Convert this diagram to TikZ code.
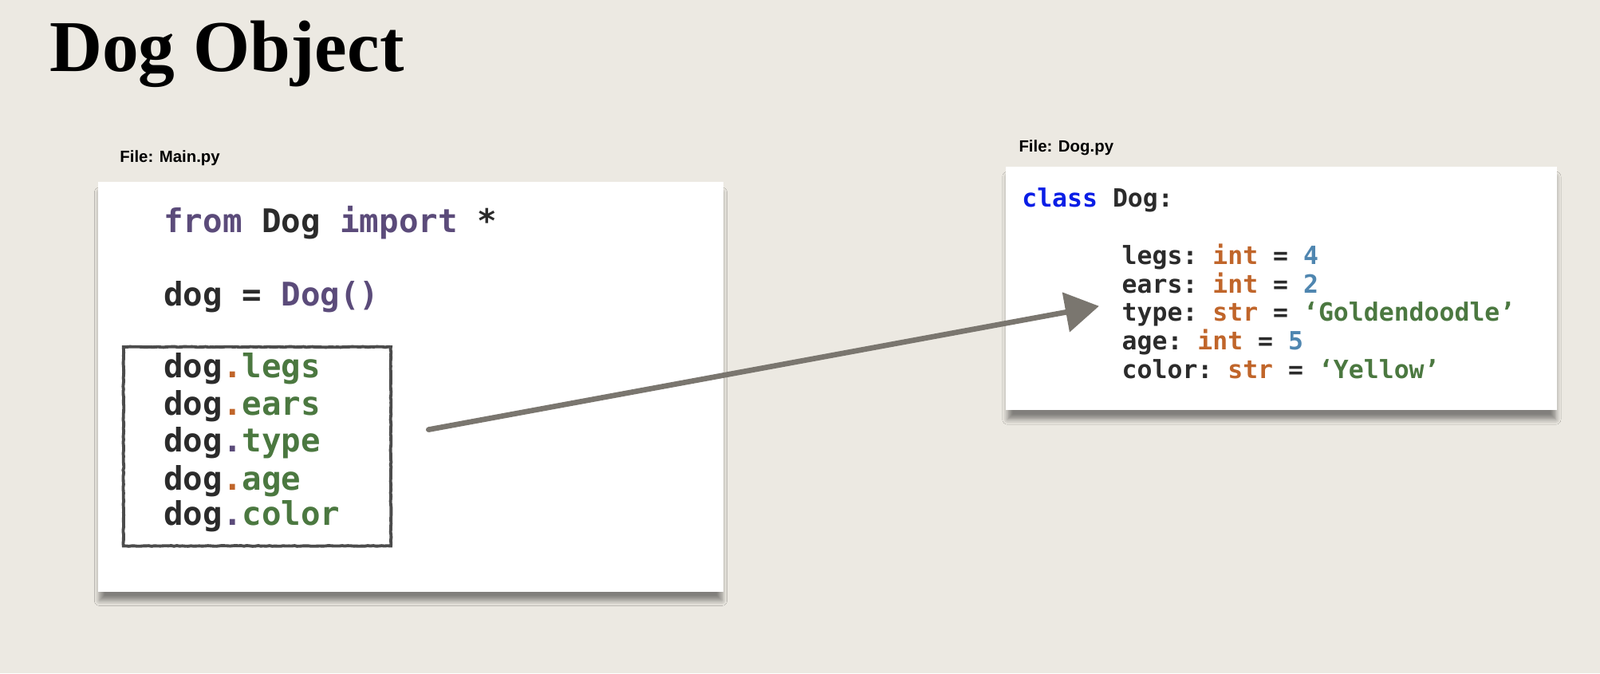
\documentclass[tikz,border=0pt]{standalone}
\usepackage{fontspec}
\setmainfont{Liberation Serif}
\setsansfont{Liberation Sans}
\setmonofont{DejaVu Sans Mono}
\usetikzlibrary{arrows.meta,shadows.blur,decorations.pathmorphing}
\definecolor{paper}{HTML}{ECE9E2}
\definecolor{codedark}{HTML}{2B2B2B}
\definecolor{pypurple}{HTML}{5B4B7A}
\definecolor{pygreen}{HTML}{4B7840}
\definecolor{pyorange}{HTML}{C0652A}
\definecolor{pyblue}{HTML}{4F86B0}
\definecolor{pyclass}{HTML}{0A1EE6}
\definecolor{chalk}{HTML}{7A766F}
\newcommand{\pykw}[1]{\textcolor{pypurple}{#1}}
\newcommand{\pyattr}[1]{\textcolor{pygreen}{#1}}
\newcommand{\pytype}[1]{\textcolor{pyorange}{#1}}
\newcommand{\pynum}[1]{\textcolor{pyblue}{#1}}
\newcommand{\dotor}{\textcolor{pyorange}{.}}
\newcommand{\dotpu}{\textcolor{pypurple}{.}}
\tikzset{
  codebox/.style={fill=white,blur shadow={shadow xshift=0pt,shadow yshift=-3.5pt,shadow blur steps=6,shadow opacity=45,shadow scale=0.995}},
  mainline/.style={anchor=base west,inner sep=0pt,text=codedark,font=\fontsize{11.6}{14}\selectfont\ttfamily\bfseries},
  dogline/.style={anchor=base west,inner sep=0pt,text=codedark,font=\fontsize{8.95}{11}\selectfont\ttfamily\bfseries},
  filelabel/.style={anchor=base west,inner sep=0pt,font=\fontsize{5.8}{7}\selectfont\sffamily\bfseries},
  roughline/.style={draw=black!70,line width=1.1pt,decorate,decoration={random steps,segment length=1pt,amplitude=0.12pt}}
}
\begin{document}
\begin{tikzpicture}[x=0.012793cm,y=-0.012793cm]
%
\fill[paper] (0,0) rectangle (1568,660);
%
\node [anchor=base west,inner sep=0pt,font=\fontsize{26}{30}\selectfont\bfseries] (title) at (48,70) {Dog Object};
%
\node [filelabel] (mainfile) at (117,159) {File: Main.py};
\node [filelabel] (dogfile) at (998,149) {File: Dog.py};
%
\path[codebox] (96,178) rectangle (709,580);
\path[codebox] (986,163) rectangle (1526,402);
%
\node [mainline] (mimport) at (160,228) {\pykw{from} Dog \pykw{import} *};
\node [mainline] (mnew) at (160,300) {dog = \pykw{Dog()}};
\node [mainline] (mlegs) at (160,370) {dog\dotor\pyattr{legs}};
\node [mainline] (mears) at (160,407) {dog\dotor\pyattr{ears}};
\node [mainline] (mtype) at (160,443) {dog\dotpu\pyattr{type}};
\node [mainline] (mage) at (160,480) {dog\dotor\pyattr{age}};
\node [mainline] (mcolor) at (160,515) {dog\dotpu\pyattr{color}};
\draw[roughline] (121,340) rectangle (383,535);
%
\node [dogline] (rclass) at (1001,203) {\textcolor{pyclass}{class} Dog:};
\node [dogline] (rlegs) at (1099,259) {legs: \pytype{int} = \pynum{4}};
\node [dogline] (rears) at (1099,287) {ears: \pytype{int} = \pynum{2}};
\node [dogline] (rtype) at (1099,315) {type: \pytype{str} = \pyattr{‘Goldendoodle’}};
\node [dogline] (rage) at (1099,343) {age: \pytype{int} = \pynum{5}};
\node [dogline] (rcolor) at (1099,371) {color: \pytype{str} = \pyattr{‘Yellow’}};
%
\coordinate (arrowstart) at (420,421);
\draw[chalk,line width=1.9pt,line cap=round,line join=round,-{Triangle[length=12pt,width=14pt]}] (arrowstart) -- ([xshift=-8pt,yshift=3pt]rtype.west);
\end{tikzpicture}
\end{document}
